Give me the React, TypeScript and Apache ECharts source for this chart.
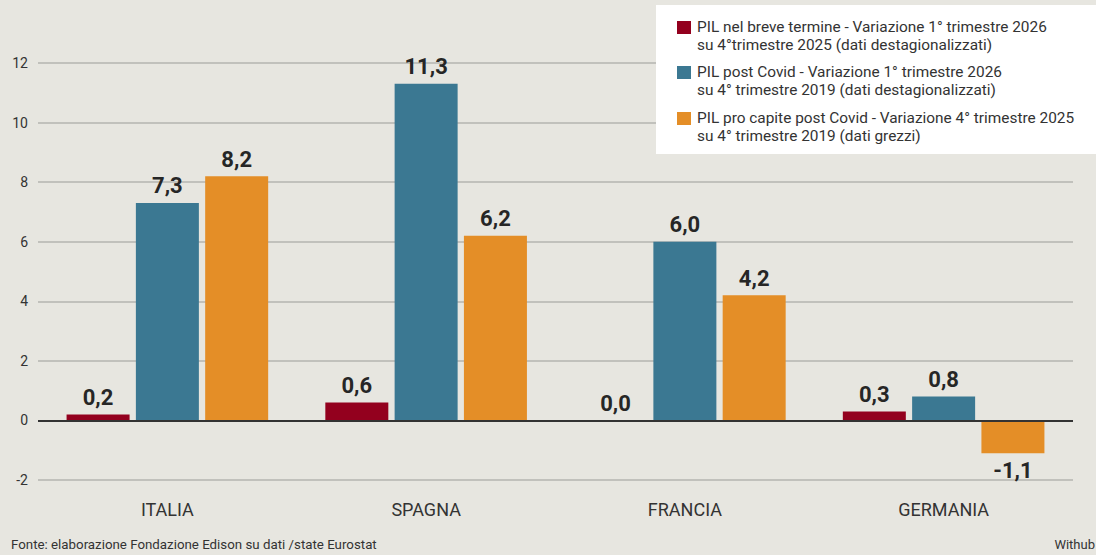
import React, { useEffect, useRef } from "react";
import * as echarts from "echarts";

const categories = ["ITALIA", "SPAGNA", "FRANCIA", "GERMANIA"];
const breveTermine = [0.2, 0.6, 0.0, 0.3];
const postCovid = [7.3, 11.3, 6.0, 0.8];
const proCapite = [8.2, 6.2, 4.2, -1.1];

const seriesNames = [
  "PIL nel breve termine - Variazione 1° trimestre 2026\nsu 4°trimestre 2025 (dati destagionalizzati)",
  "PIL post Covid - Variazione 1° trimestre 2026\nsu 4° trimestre 2019 (dati destagionalizzati)",
  "PIL pro capite post Covid - Variazione 4° trimestre 2025\nsu 4° trimestre 2019 (dati grezzi)",
];
const colors = ["#93001E", "#3B7892", "#E48E27"];
const sourceText = "Fonte: elaborazione Fondazione Edison su dati /state Eurostat";
const creditText = "Withub";

const FONT = "Roboto, 'Noto Sans', sans-serif";

const fmt = (v: number) => v.toFixed(1).replace(".", ",");

export default function App() {
  const ref = useRef<HTMLDivElement>(null);
  useEffect(() => {
    document.body.style.margin = "0";
    if (!ref.current) return;
    const chart = echarts.init(ref.current, null, { renderer: "svg" });
    const makeSeries = (name: string, data: number[], color: string) => ({
      name,
      type: "bar",
      barWidth: 63,
      barGap: "10%",
      itemStyle: { color },
      data: data.map((v) => ({
        value: v,
        label: { position: v < 0 ? "bottom" : "top" },
      })),
      label: {
        show: true,
        distance: 6,
        formatter: (p: any) => fmt(p.value),
        fontFamily: FONT,
        fontWeight: "bold",
        fontSize: 22,
        color: "#262626",
      },
    });
    const legendItems: any[] = [
      {
        type: "rect",
        z: 10,
        shape: { x: 656, y: 5, width: 440, height: 149 },
        style: { fill: "#FFFFFF" },
      },
    ];
    const legendTops = [21, 66, 112];
    seriesNames.forEach((n, i) => {
      legendItems.push({
        type: "rect",
        z: 11,
        shape: { x: 677, y: legendTops[i], width: 14, height: 13 },
        style: { fill: colors[i] },
      });
      legendItems.push({
        type: "text",
        z: 11,
        x: 697,
        y: legendTops[i] - 3,
        style: {
          text: n,
          fill: "#333",
          font: `15.4px ${FONT}`,
          lineHeight: 18,
          textVerticalAlign: "top",
        },
      });
    });
    chart.setOption({
      animation: false,
      backgroundColor: "#E7E6E0",
      grid: { left: 38, right: 23, top: 63, bottom: 75, containLabel: false },
      xAxis: {
        type: "category",
        data: categories,
        axisLine: { show: false },
        axisTick: { show: false },
        axisLabel: {
          color: "#333",
          fontFamily: FONT,
          fontSize: 18,
          margin: 20,
        },
      },
      yAxis: {
        type: "value",
        min: -2,
        max: 12,
        interval: 2,
        axisLine: { show: false },
        axisTick: { show: false },
        axisLabel: {
          color: "#333",
          fontFamily: FONT,
          fontSize: 14,
          margin: 10,
        },
        splitLine: { lineStyle: { color: "#B4B4B0", width: 1.5 } },
      },
      series: [
        makeSeries(seriesNames[0], breveTermine, colors[0]),
        makeSeries(seriesNames[1], postCovid, colors[1]),
        {
          ...makeSeries(seriesNames[2], proCapite, colors[2]),
          markLine: {
            silent: true,
            symbol: "none",
            label: { show: false },
            lineStyle: { color: "#333", width: 2, type: "solid" },
            data: [{ yAxis: 0 }],
          },
        },
      ],
      graphic: [
        ...legendItems,
        {
          type: "text",
          x: 11,
          y: 544,
          style: {
            text: sourceText,
            fill: "#333",
            font: `13.3px ${FONT}`,
            textVerticalAlign: "middle",
          },
        },
        {
          type: "text",
          x: 1095,
          y: 544,
          style: {
            text: creditText,
            fill: "#333",
            font: `13px ${FONT}`,
            textAlign: "right",
            textVerticalAlign: "middle",
          },
        },
      ],
    });
    return () => chart.dispose();
  }, []);
  return <div ref={ref} style={{ width: 1096, height: 555 }} />;
}
